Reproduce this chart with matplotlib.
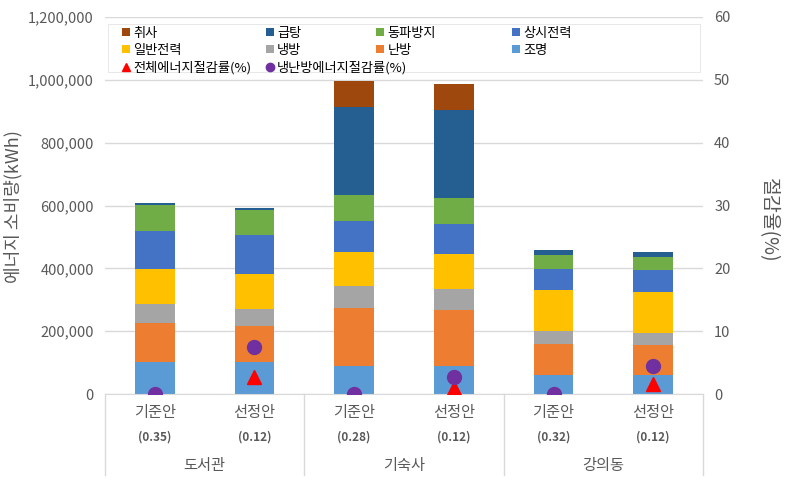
import numpy as np
import matplotlib
matplotlib.use('Agg')
import matplotlib.pyplot as plt
from matplotlib.patches import Patch, Rectangle, Shadow
from matplotlib.lines import Line2D
from matplotlib.ticker import FuncFormatter

plt.rcParams['font.family'] = ['Noto Sans CJK KR', 'DejaVu Sans']

# categories
cases = ['기준안', '선정안', '기준안', '선정안', '기준안', '선정안']
ratios = ['(0.35)', '(0.12)', '(0.28)', '(0.12)', '(0.32)', '(0.12)']
buildings = ['도서관', '기숙사', '강의동']

# energy use by end use (kWh), bottom to top
lighting = [102000, 102000, 89000, 89000, 60500, 60500]
heating = [124000, 115000, 184700, 178400, 98700, 95500]
cooling = [60000, 53500, 70000, 67000, 41500, 38200]
general = [112000, 111500, 108000, 111000, 130500, 130500]
standby = [121000, 124000, 98700, 95500, 67000, 70000]
freeze = [83000, 80600, 82700, 82800, 44400, 41400]
hotwater = [6000, 5500, 280000, 280000, 16000, 16000]
cooking = [0, 0, 83000, 82700, 0, 0]

# savings (%)
total_saving = [0, 2.7, 0, 1.0, 0, 1.6]
hvac_saving = [0, 7.5, 0, 2.7, 0, 4.5]

series = [('조명', lighting, '#5B9BD5'),
          ('난방', heating, '#ED7D31'),
          ('냉방', cooling, '#A5A5A5'),
          ('일반전력', general, '#FFC000'),
          ('상시전력', standby, '#4472C4'),
          ('동파방지', freeze, '#70AD47'),
          ('급탕', hotwater, '#255E91'),
          ('취사', cooking, '#9E480E')]

grey = '#595959'
fig = plt.figure(figsize=(7.86, 4.84), dpi=100)
ax = fig.add_axes([105 / 786, 90 / 484, 598 / 786, 377 / 484])

x = np.arange(len(cases))
bottom = np.zeros(len(cases))
handles = {}
for name, vals, col in series:
    ax.bar(x, vals, width=0.4, bottom=bottom, color=col, edgecolor='none')
    bottom += np.array(vals)
    handles[name] = Patch(facecolor=col, edgecolor='none')

ax.set_xlim(-0.5, 5.5)
ax.set_ylim(0, 1200000)
ax.set_yticks(np.arange(0, 1200001, 200000))
ax.yaxis.set_major_formatter(FuncFormatter(lambda v, p: f'{int(v):,}'))
ax.set_axisbelow(True)
ax.grid(axis='y', color='#D9D9D9', linewidth=1)
ax.set_xticks([])
ax.tick_params(axis='y', length=0, labelsize=10.5, labelcolor=grey, pad=8)
for s in ['top', 'left', 'right']:
    ax.spines[s].set_visible(False)
ax.spines['bottom'].set_color('#D9D9D9')

ax2 = ax.twinx()
ax2.set_ylim(0, 60)
ax2.set_yticks(np.arange(0, 61, 10))
ax2.tick_params(axis='y', length=0, labelsize=10.5, labelcolor=grey, pad=8)
for s in ax2.spines.values():
    s.set_visible(False)
ax2.plot(x, total_saving, ls='none', marker='^', ms=10, color='#FF0000')
ax2.plot(x, hvac_saving, ls='none', marker='o', ms=10, color='#7030A0')

# category labels
tr = ax.get_xaxis_transform()
for i in range(len(cases)):
    ax.text(x[i], -0.048, cases[i], transform=tr, ha='center', va='center',
            fontsize=11, color=grey)
    ax.text(x[i], -0.114, ratios[i], transform=tr, ha='center', va='center',
            fontsize=8.5, fontweight='bold', color=grey)
for j, b in enumerate(buildings):
    ax.text(2 * j + 0.5, -0.19, b, transform=tr, ha='center', va='center',
            fontsize=11, color=grey)
for xs in [-0.5, 1.5, 3.5, 5.5]:
    ax.plot([xs, xs], [0, -0.215], transform=tr, color='#D9D9D9', lw=1,
            clip_on=False)

fig.text(13 / 786, 1 - 207 / 484, '에너지 소비량(kWh)', rotation=90,
         ha='center', va='center', fontsize=13, color=grey)
fig.text(768 / 786, 1 - 220 / 484, '절감율(%)', rotation=270,
         ha='center', va='center', fontsize=14, color=grey)

# legend box with shadow
box = Rectangle((0.005, 0.854), 0.99, 0.127, transform=ax2.transAxes,
                facecolor='white', edgecolor='#E4E4E4', lw=0.6, zorder=4)
sh = Shadow(box, 2.5, -2.5)
sh.set_facecolor('#A8A8A8')
sh.set_zorder(3.9)
ax2.add_patch(sh)
ax2.add_patch(box)

tri = Line2D([], [], ls='none', marker='^', ms=6, color='#FF0000')
dot = Line2D([], [], ls='none', marker='o', ms=6, color='#7030A0')
hA = [handles['취사'], handles['일반전력'], tri,
      handles['급탕'], handles['냉방'], dot]
lA = ['취사', '일반전력', '전체에너지절감률(%)', '급탕', '냉방', '냉난방에너지절감률(%)']
hB = [handles['동파방지'], handles['난방'], handles['상시전력'], handles['조명']]
lB = ['동파방지', '난방', '상시전력', '조명']
kw = dict(frameon=False, fontsize=9.5, handlelength=0.6, handleheight=0.6,
          handletextpad=0.25, labelspacing=0.3, borderpad=0.1,
          labelcolor='black')
legA = ax2.legend(hA, lA, ncol=2, loc='upper left', columnspacing=1.1,
                  bbox_to_anchor=(0.015, 0.995), **kw)
legA.set_zorder(5)
ax2.add_artist(legA)
legB = ax2.legend(hB, lB, ncol=2, loc='upper left', columnspacing=5.8,
                  bbox_to_anchor=(0.44, 0.995), **kw)
legB.set_zorder(5)

fig.savefig('out.png', dpi=100)
